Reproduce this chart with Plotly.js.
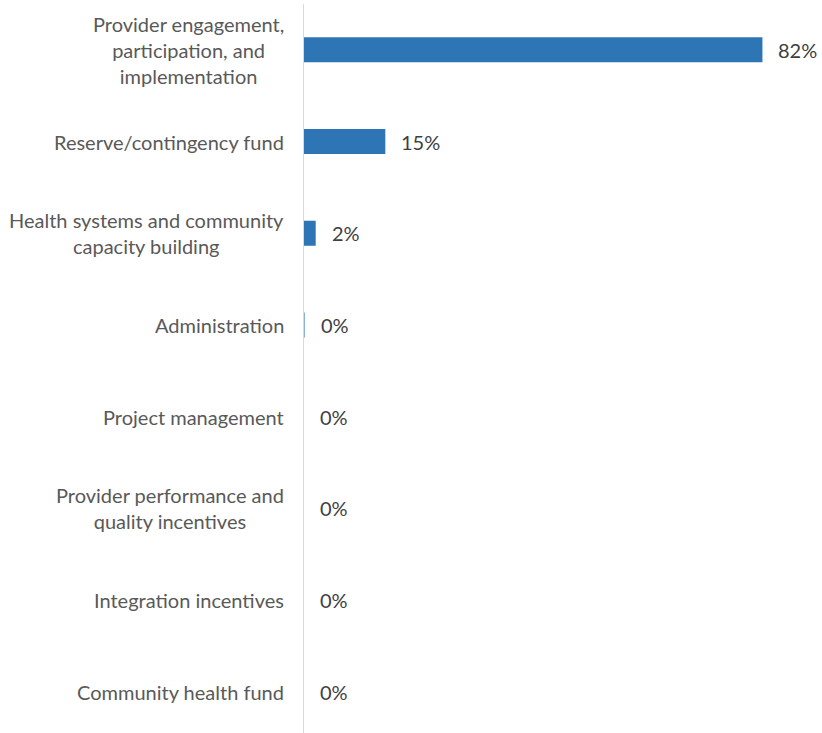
<!DOCTYPE html>
<html><head><meta charset="utf-8">
<script src="https://cdn.plot.ly/plotly-3.0.1.min.js"></script>
<style>html,body{margin:0;padding:0;background:#fff;overflow:hidden}#chart{width:822px;height:733px}</style>
</head><body><div id="chart"></div>
<script>
const categories = [
  "Provider engagement,<br>participation, and<br>implementation",
  "Reserve/contingency fund",
  "Health systems and community<br>capacity building",
  "Administration",
  "Project management",
  "Provider performance and<br>quality incentives",
  "Integration incentives",
  "Community health fund"
];
const values = [82.3, 14.6, 2.1, 0.1, 0, 0, 0, 0];
const valueLabels = ["82%", "15%", "2%", "0%", "0%", "0%", "0%", "0%"];

const FONT = "Lato, 'Open Sans', sans-serif";
const idx = categories.map((c, i) => i);

const annotations = [];
categories.forEach((c, i) => {
  annotations.push({
    xref: 'paper', yref: 'y', x: 0, y: i, text: c,
    xanchor: 'right', yanchor: 'middle', align: 'center', xshift: -18,
    showarrow: false, font: {family: FONT, size: 20, color: '#595959'}
  });
  annotations.push({
    xref: 'x', yref: 'y', x: values[i], y: i, text: valueLabels[i],
    xanchor: 'left', yanchor: 'middle', xshift: 14,
    showarrow: false, font: {family: FONT, size: 20, color: '#404040'}
  });
});

const trace = {
  type: 'bar', orientation: 'h', x: values, y: idx,
  marker: {color: '#2E75B6', line: {width: 0}},
  hoverinfo: 'skip'
};

const layout = {
  width: 822, height: 733,
  margin: {l: 304, r: 10, t: 4, b: 0},
  paper_bgcolor: '#fff', plot_bgcolor: '#fff',
  bargap: 0.727,
  showlegend: false,
  xaxis: {range: [0, 91.2], visible: false, fixedrange: true},
  yaxis: {range: [7.45, -0.5], showticklabels: false, showgrid: false, zeroline: false,
          showline: true, linecolor: '#d9d9d9', linewidth: 1.5, ticks: ''},
  annotations: annotations
};
Plotly.newPlot('chart', [trace], layout, {displayModeBar: false, staticPlot: true});
</script></body></html>
